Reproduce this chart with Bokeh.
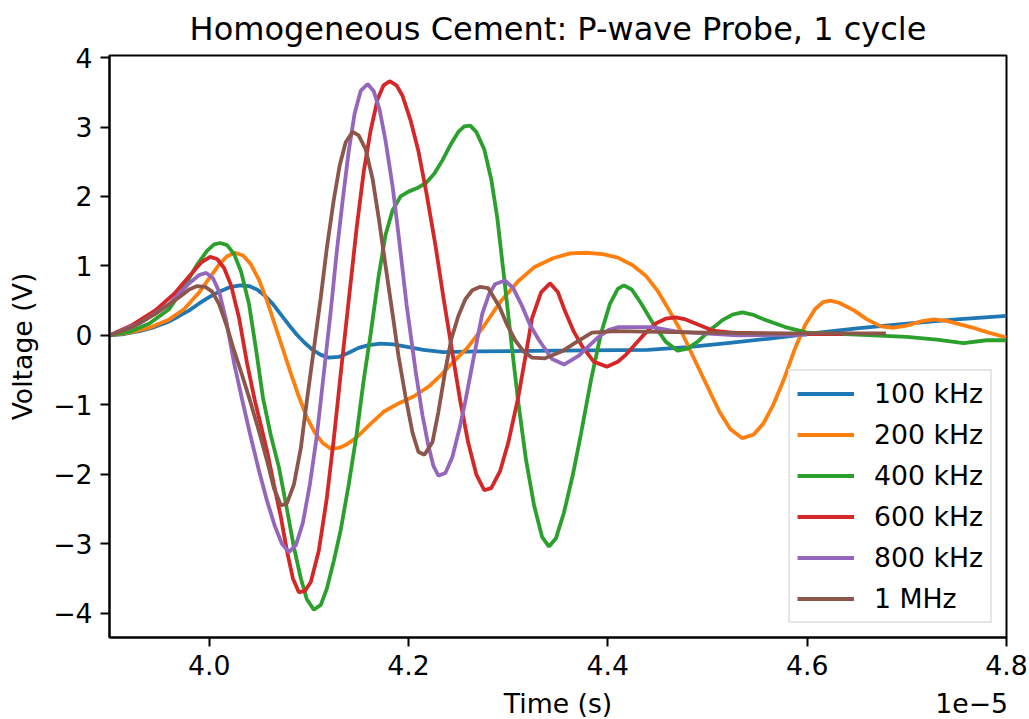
from bokeh.plotting import figure
from bokeh.models import (FixedTicker, CustomJSTickFormatter, Legend,
                          LegendItem, Range1d, LinearAxis)
from bokeh.embed import file_html
from bokeh.resources import INLINE

# ---------------- data (time in units of 1e-5 s, voltage in V) ----------------
labels = ["100 kHz", "200 kHz", "400 kHz", "600 kHz", "800 kHz", "1 MHz"]
colors = ["#1f77b4", "#ff7f0e", "#2ca02c", "#d62728", "#9467bd", "#8c564b"]

t_100 = [3.900, 3.915, 3.930, 3.945, 3.958, 3.970, 3.980, 3.990, 4.000, 4.010,
         4.020, 4.031, 4.040, 4.048, 4.056, 4.064, 4.072, 4.080, 4.088, 4.096,
         4.104, 4.112, 4.120, 4.130, 4.140, 4.150, 4.160, 4.172, 4.185, 4.200,
         4.215, 4.235, 4.270, 4.350, 4.440, 4.480, 4.520, 4.560, 4.600, 4.650,
         4.700, 4.750, 4.800]
v_100 = [0.00, 0.02, 0.06, 0.12, 0.19, 0.28, 0.36, 0.46, 0.55, 0.63,
         0.69, 0.72, 0.71, 0.66, 0.57, 0.45, 0.30, 0.15, 0.01, -0.11,
         -0.21, -0.28, -0.32, -0.31, -0.25, -0.18, -0.14, -0.12, -0.13, -0.17,
         -0.21, -0.24, -0.23, -0.22, -0.21, -0.17, -0.11, -0.05, 0.02, 0.10,
         0.17, 0.23, 0.28]

t_200 = [3.900, 3.920, 3.940, 3.960, 3.975, 3.990, 4.000, 4.010, 4.018, 4.026,
         4.034, 4.042, 4.050, 4.058, 4.066, 4.074, 4.082, 4.090, 4.098, 4.106,
         4.114, 4.122, 4.130, 4.138, 4.148, 4.160, 4.175, 4.190, 4.205, 4.220,
         4.232, 4.245, 4.259, 4.275, 4.292, 4.310, 4.326, 4.345, 4.362, 4.378,
         4.395, 4.410, 4.425, 4.438, 4.450, 4.462, 4.475, 4.488, 4.500, 4.512,
         4.523, 4.535, 4.546, 4.556, 4.566, 4.577, 4.588, 4.598, 4.608, 4.616,
         4.623, 4.632, 4.647, 4.660, 4.674, 4.687, 4.700, 4.714, 4.727, 4.740,
         4.764, 4.782, 4.800]
v_200 = [0.00, 0.04, 0.11, 0.23, 0.38, 0.62, 0.82, 1.02, 1.14, 1.19,
         1.15, 1.02, 0.80, 0.50, 0.15, -0.20, -0.55, -0.88, -1.18, -1.40,
         -1.55, -1.63, -1.62, -1.57, -1.47, -1.30, -1.10, -0.98, -0.88, -0.74,
         -0.58, -0.38, -0.18, 0.12, 0.48, 0.78, 0.98, 1.11, 1.18, 1.19,
         1.17, 1.12, 1.01, 0.86, 0.64, 0.35, 0.02, -0.38, -0.74, -1.10,
         -1.35, -1.48, -1.43, -1.27, -1.00, -0.62, -0.18, 0.15, 0.38, 0.48,
         0.50, 0.47, 0.36, 0.23, 0.13, 0.11, 0.14, 0.20, 0.23, 0.21,
         0.12, 0.04, -0.03]

t_400 = [3.900, 3.920, 3.940, 3.960, 3.975, 3.988, 3.998, 4.005, 4.011, 4.018,
         4.025, 4.032, 4.040, 4.047, 4.054, 4.062, 4.070, 4.078, 4.085, 4.092,
         4.098, 4.105, 4.112, 4.118, 4.125, 4.132, 4.140, 4.148, 4.155, 4.162,
         4.170, 4.177, 4.184, 4.192, 4.200, 4.210, 4.218, 4.226, 4.234, 4.242,
         4.250, 4.256, 4.262, 4.268, 4.276, 4.283, 4.289, 4.295, 4.302, 4.310,
         4.318, 4.326, 4.334, 4.341, 4.348, 4.356, 4.365, 4.373, 4.383, 4.393,
         4.402, 4.410, 4.416, 4.424, 4.433, 4.445, 4.458, 4.470, 4.480, 4.491,
         4.503, 4.515, 4.525, 4.535, 4.545, 4.555, 4.578, 4.600, 4.650, 4.700,
         4.730, 4.757, 4.780, 4.800]
v_400 = [0.00, 0.05, 0.17, 0.38, 0.70, 1.02, 1.22, 1.31, 1.33, 1.30,
         1.17, 0.92, 0.45, -0.20, -0.90, -1.45, -1.90, -2.50, -3.05, -3.50,
         -3.80, -3.95, -3.88, -3.65, -3.25, -2.80, -2.15, -1.42, -0.65, 0.02,
         0.85, 1.45, 1.80, 2.00, 2.07, 2.13, 2.20, 2.33, 2.52, 2.74,
         2.93, 3.01, 3.02, 2.93, 2.68, 2.25, 1.70, 0.95, 0.05, -0.95,
         -1.80, -2.45, -2.90, -3.04, -2.92, -2.55, -2.00, -1.42, -0.65, 0.02,
         0.45, 0.67, 0.72, 0.66, 0.47, 0.18, -0.09, -0.22, -0.19, -0.08,
         0.08, 0.22, 0.30, 0.33, 0.30, 0.24, 0.12, 0.04, 0.01, -0.02,
         -0.06, -0.11, -0.07, -0.07]

t_600 = [3.900, 3.923, 3.946, 3.965, 3.980, 3.992, 4.001, 4.008, 4.015, 4.022,
         4.030, 4.038, 4.046, 4.052, 4.058, 4.065, 4.072, 4.078, 4.084, 4.090,
         4.096, 4.102, 4.110, 4.118, 4.125, 4.132, 4.140, 4.148, 4.155, 4.162,
         4.169, 4.175, 4.181, 4.188, 4.194, 4.202, 4.210, 4.218, 4.227, 4.235,
         4.244, 4.252, 4.260, 4.268, 4.276, 4.283, 4.292, 4.300, 4.310, 4.318,
         4.324, 4.333, 4.342, 4.350, 4.357, 4.366, 4.374, 4.386, 4.399, 4.410,
         4.418, 4.428, 4.438, 4.448, 4.458, 4.468, 4.478, 4.488, 4.505, 4.525,
         4.580, 4.636]
v_600 = [0.00, 0.15, 0.36, 0.60, 0.85, 1.05, 1.13, 1.10, 0.97, 0.72,
         0.25, -0.40, -0.95, -1.30, -1.66, -2.15, -2.62, -3.10, -3.50, -3.70,
         -3.68, -3.55, -3.10, -2.35, -1.50, -0.55, 0.50, 1.55, 2.35, 2.95,
         3.40, 3.60, 3.66, 3.60, 3.45, 3.10, 2.65, 2.05, 1.30, 0.55,
         -0.25, -0.95, -1.55, -2.00, -2.23, -2.20, -1.95, -1.55, -0.90, -0.25,
         0.25, 0.62, 0.75, 0.62, 0.35, 0.05, -0.15, -0.38, -0.45, -0.38,
         -0.28, -0.12, 0.04, 0.17, 0.24, 0.26, 0.23, 0.17, 0.07, 0.04,
         0.02, 0.02]

t_800 = [3.900, 3.930, 3.960, 3.980, 3.990, 3.997, 4.004, 4.010, 4.017, 4.025,
         4.033, 4.041, 4.050, 4.058, 4.066, 4.073, 4.080, 4.087, 4.094, 4.101,
         4.108, 4.115, 4.122, 4.128, 4.134, 4.140, 4.146, 4.152, 4.159, 4.165,
         4.171, 4.177, 4.184, 4.190, 4.198, 4.207, 4.214, 4.220, 4.225, 4.230,
         4.237, 4.244, 4.251, 4.257, 4.265, 4.274, 4.281, 4.287, 4.297, 4.305,
         4.314, 4.322, 4.331, 4.344, 4.356, 4.371, 4.381, 4.391, 4.401, 4.411,
         4.444, 4.471, 4.530, 4.600]
v_800 = [0.00, 0.17, 0.45, 0.75, 0.87, 0.90, 0.82, 0.63, 0.22, -0.40,
         -0.92, -1.42, -1.95, -2.38, -2.75, -3.00, -3.12, -3.02, -2.70, -2.15,
         -1.45, -0.55, 0.35, 1.20, 1.95, 2.65, 3.20, 3.52, 3.62, 3.52,
         3.25, 2.80, 2.15, 1.45, 0.45, -0.50, -1.15, -1.59, -1.88, -2.02,
         -1.98, -1.75, -1.35, -0.95, -0.35, 0.31, 0.60, 0.74, 0.79, 0.68,
         0.42, 0.15, -0.07, -0.34, -0.42, -0.29, -0.15, -0.02, 0.08, 0.12,
         0.12, 0.05, 0.00, 0.01]

t_1m = [3.900, 3.923, 3.946, 3.970, 3.980, 3.988, 3.996, 4.003, 4.010, 4.018,
        4.025, 4.033, 4.041, 4.050, 4.058, 4.065, 4.072, 4.078, 4.085, 4.092,
        4.098, 4.105, 4.112, 4.118, 4.125, 4.131, 4.137, 4.144, 4.150, 4.157,
        4.164, 4.170, 4.177, 4.184, 4.190, 4.197, 4.204, 4.210, 4.216, 4.224,
        4.230, 4.237, 4.243, 4.250, 4.257, 4.264, 4.272, 4.280, 4.291, 4.299,
        4.307, 4.316, 4.324, 4.337, 4.354, 4.368, 4.384, 4.408, 4.450, 4.550,
        4.679]
v_1m = [0.00, 0.12, 0.31, 0.55, 0.66, 0.71, 0.70, 0.63, 0.45, 0.12,
        -0.22, -0.57, -0.94, -1.38, -1.80, -2.20, -2.45, -2.42, -2.15, -1.62,
        -0.94, -0.20, 0.55, 1.25, 1.95, 2.45, 2.78, 2.93, 2.88, 2.68,
        2.25, 1.70, 1.00, 0.31, -0.30, -0.88, -1.40, -1.68, -1.72, -1.54,
        -1.10, -0.50, -0.05, 0.28, 0.52, 0.65, 0.70, 0.68, 0.42, 0.15,
        -0.07, -0.24, -0.32, -0.33, -0.23, -0.10, 0.04, 0.06, 0.05, 0.03,
        0.03]

series_t = [t_100, t_200, t_400, t_600, t_800, t_1m]
series_v = [v_100, v_200, v_400, v_600, v_800, v_1m]

x_ticks = [4.0, 4.2, 4.4, 4.6, 4.8]
y_ticks = [-4, -3, -2, -1, 0, 1, 2, 3, 4]

title_text = "Homogeneous Cement: P-wave Probe, 1 cycle"
x_label = "Time (s)"
y_label = "Voltage (V)"
offset_text = "1e\u22125"

# ---------------- figure ----------------
FONT = "DejaVu Sans"
FS = "26.7px"
X_LABEL_POS = 4.35      # centre of the frame
OFFSET_POS = 4.765      # right-aligned at the end of the axis

p = figure(frame_width=897, frame_height=582,
           min_border_left=109, min_border_right=23,
           min_border_top=55, min_border_bottom=82,
           x_range=Range1d(3.9, 4.8), y_range=Range1d(-4.35, 4.03),
           output_backend="svg", toolbar_location=None,
           title=title_text)

p.background_fill_color = "white"
p.border_fill_color = "white"
p.outline_line_color = "black"
p.outline_line_width = 2
p.xgrid.visible = False
p.ygrid.visible = False

p.title.text_font = FONT
p.title.text_font_size = "32px"
p.title.text_font_style = "normal"
p.title.align = "center"
p.title.text_color = "black"
p.title.standoff = 15


def style_axis(ax):
    ax.axis_line_width = 2
    ax.axis_line_color = "black"
    ax.major_tick_line_width = 2
    ax.major_tick_line_color = "black"
    ax.major_tick_out = 9
    ax.major_tick_in = 0
    ax.minor_tick_out = 0
    ax.minor_tick_in = 0
    ax.major_label_text_font = FONT
    ax.major_label_text_font_size = FS
    ax.major_label_text_color = "black"
    ax.major_label_standoff = 8
    ax.axis_label_text_font = FONT
    ax.axis_label_text_font_size = FS
    ax.axis_label_text_font_style = "normal"
    ax.axis_label_text_color = "black"


style_axis(p.xaxis[0])
style_axis(p.yaxis[0])

p.xaxis[0].ticker = FixedTicker(ticks=x_ticks)
p.xaxis[0].formatter = CustomJSTickFormatter(code="return tick.toFixed(1);")

p.yaxis[0].ticker = FixedTicker(ticks=y_ticks)
p.yaxis[0].formatter = CustomJSTickFormatter(
    code="return tick < 0 ? '\u2212' + Math.abs(tick).toFixed(0) : tick.toFixed(0);")
p.yaxis[0].axis_label = y_label
p.yaxis[0].axis_label_standoff = 12

# second, invisible axis carrying the x label and the offset text on one row
label_axis = LinearAxis(
    ticker=FixedTicker(ticks=[X_LABEL_POS, OFFSET_POS]),
    formatter=CustomJSTickFormatter(
        args=dict(lab=x_label, off=offset_text, cut=(X_LABEL_POS + OFFSET_POS) / 2),
        code="return tick > cut ? off : lab;"))
style_axis(label_axis)
label_axis.axis_line_color = None
label_axis.major_tick_line_color = None
label_axis.major_tick_out = 0
label_axis.major_label_standoff = 10
p.add_layout(label_axis, "below")

items = []
for t, v, c, lab in zip(series_t, series_v, colors, labels):
    r = p.line(t, v, line_color=c, line_width=3.8)
    items.append(LegendItem(label=lab, renderers=[r]))

legend = Legend(items=items, location="bottom_right")
legend.label_text_font = FONT
legend.label_text_font_size = FS
legend.label_text_color = "black"
legend.glyph_width = 57
legend.glyph_height = 27
legend.label_height = 27
legend.label_standoff = 20
legend.spacing = 10
legend.padding = 7
legend.margin = 14
legend.border_line_color = "#cccccc"
legend.border_line_width = 2
legend.background_fill_color = "white"
legend.background_fill_alpha = 0.8
p.add_layout(legend)

open("out.html", "w").write(file_html(p, INLINE))
